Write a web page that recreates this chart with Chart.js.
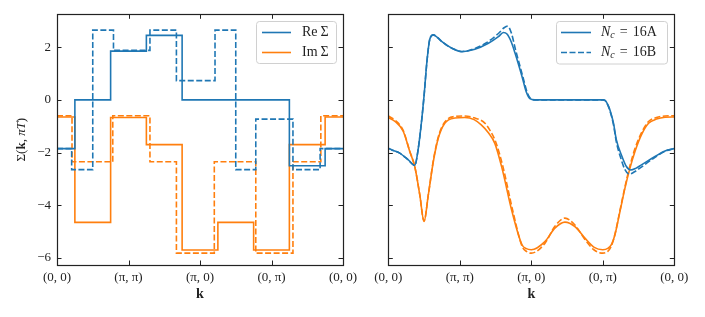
<!DOCTYPE html>
<html><head><meta charset="utf-8">
<script src="https://cdn.jsdelivr.net/npm/chart.js@4/dist/chart.umd.min.js"></script>
<style>
html,body{margin:0;padding:0;background:#fff;}
#wrap{position:relative;width:705px;height:317px;overflow:hidden;}
canvas{position:absolute;top:0;}
#c1{left:0;width:360px;height:317px;}
#c2{left:360px;width:345px;height:317px;}
</style></head><body>
<div id="wrap"><canvas id="c1" width="360" height="317"></canvas><canvas id="c2" width="345" height="317"></canvas></div>
<script>
// ---------- axis labels ----------
const kLabels = ['(0, 0)', '(π, π)', '(π, 0)', '(0, π)', '(0, 0)'];
const kTicks = [0, 1, 2, 3, 4];
const yTicks = [-6, -4, -2, 0, 2];
const yTickLabels = ['−6', '−4', '−2', '0', '2'];
const Y_MIN = -6.27, Y_MAX = 3.25;

// ---------- left panel: cluster (step) values ----------
const reA_edges = [0, 0.25, 0.75, 1.25, 1.75, 3.25, 3.75, 4];
const reA_vals  = [-1.85, 0, 1.85, 2.45, 0, -2.5, -1.85];
const imA_edges = [0, 0.25, 0.75, 1.25, 1.75, 2.25, 2.75, 3.25, 3.75, 4];
const imA_vals  = [-0.65, -4.65, -0.67, -1.7, -5.7, -4.65, -5.7, -1.7, -0.65];
const reB_edges = [0, 0.205, 0.5, 0.79, 1.3, 1.67, 2.21, 2.5, 2.78, 3.3, 3.68, 4];
const reB_vals  = [-1.85, -2.65, 2.65, 1.88, 2.65, 0.73, 2.65, -2.65, -0.73, -2.65, -1.85];
const imB_edges = [0, 0.21, 0.78, 1.3, 1.67, 2.2, 2.78, 3.3, 3.69, 4];
const imB_vals  = [-0.6, -2.35, -0.6, -2.35, -5.82, -2.35, -5.82, -2.35, -0.6];

// ---------- right panel: interpolated (smooth) values ----------
const reA_k = [0, 0.05, 0.16, 0.28, 0.37, 0.42, 0.47, 0.50, 0.54, 0.58, 0.63, 0.69, 0.75, 0.89, 1.03, 1.21, 1.40, 1.54, 1.61, 1.66, 1.72, 1.77, 1.87, 1.93, 1.98, 2.05, 2.5, 3.0, 3.03, 3.07, 3.10, 3.15, 3.19, 3.26, 3.33, 3.39, 3.46, 3.54, 3.73, 3.87, 4.0];
const reA_s = [-1.84, -1.90, -2.02, -2.28, -2.49, -1.83, -0.69, 0.15, 1.45, 2.30, 2.47, 2.36, 2.21, 1.96, 1.83, 1.92, 2.15, 2.40, 2.56, 2.50, 2.20, 1.80, 0.89, 0.30, 0.05, 0, 0, 0, -0.02, -0.18, -0.38, -0.89, -1.52, -2.09, -2.53, -2.66, -2.60, -2.47, -2.15, -1.94, -1.85];
const reB_k = [0, 0.05, 0.16, 0.28, 0.37, 0.42, 0.47, 0.50, 0.54, 0.58, 0.63, 0.69, 0.75, 0.89, 1.03, 1.21, 1.40, 1.54, 1.62, 1.67, 1.72, 1.78, 1.88, 1.94, 1.99, 2.05, 2.5, 3.0, 3.03, 3.07, 3.10, 3.15, 3.19, 3.25, 3.31, 3.37, 3.45, 3.54, 3.73, 3.87, 4.0];
const reB_s = [-1.84, -1.90, -2.02, -2.28, -2.49, -1.83, -0.69, 0.15, 1.45, 2.30, 2.47, 2.36, 2.21, 1.96, 1.84, 1.95, 2.22, 2.52, 2.74, 2.80, 2.55, 1.90, 0.90, 0.30, 0.05, 0, 0, 0, -0.02, -0.20, -0.42, -0.95, -1.60, -2.20, -2.65, -2.82, -2.72, -2.55, -2.18, -1.95, -1.85];
const imA_k = [0, 0.094, 0.21, 0.30, 0.37, 0.44, 0.50, 0.56, 0.63, 0.70, 0.79, 0.93, 1.07, 1.20, 1.30, 1.40, 1.49, 1.59, 1.73, 1.87, 1.93, 2.0, 2.19, 2.33, 2.47, 2.61, 2.75, 2.88, 3.0, 3.07, 3.12, 3.17, 3.24, 3.31, 3.38, 3.45, 3.54, 3.64, 3.75, 3.87, 4.0];
const imA_s = [-0.67, -0.82, -1.20, -1.96, -2.53, -3.60, -4.62, -3.60, -2.34, -1.45, -0.89, -0.69, -0.67, -0.75, -0.95, -1.25, -1.65, -2.59, -4.24, -5.50, -5.65, -5.69, -5.38, -4.87, -4.64, -4.81, -5.25, -5.60, -5.69, -5.64, -5.50, -5.12, -4.24, -3.35, -2.59, -1.96, -1.33, -0.89, -0.73, -0.66, -0.65];
const imB_k = [0, 0.094, 0.21, 0.30, 0.37, 0.44, 0.50, 0.56, 0.63, 0.70, 0.79, 0.93, 1.07, 1.20, 1.35, 1.42, 1.50, 1.60, 1.74, 1.87, 1.93, 2.0, 2.19, 2.33, 2.47, 2.61, 2.75, 2.88, 3.0, 3.07, 3.12, 3.17, 3.24, 3.31, 3.38, 3.45, 3.54, 3.64, 3.75, 3.87, 4.0];
const imB_s = [-0.61, -0.77, -1.17, -1.95, -2.53, -3.60, -4.60, -3.60, -2.30, -1.40, -0.84, -0.63, -0.61, -0.68, -0.88, -1.15, -1.58, -2.50, -4.20, -5.55, -5.75, -5.82, -5.45, -4.80, -4.49, -4.75, -5.30, -5.70, -5.82, -5.75, -5.55, -5.10, -4.20, -3.30, -2.50, -1.85, -1.25, -0.82, -0.67, -0.61, -0.60];

// ---------- style ----------
const BLUE = '#1f77b4', ORANGE = '#ff7f0e';
const SERIF = '"Liberation Serif", "Times New Roman", serif';
const INK = '#222';
const DASH = [6, 2.5];
const LW = 1.6;

function stepPoints(edges, vals) {
  const pts = vals.map((v, i) => ({x: edges[i], y: v}));
  pts.push({x: edges[edges.length - 1], y: vals[vals.length - 1]});
  return pts;
}
function xy(ks, vs) { return ks.map((k, i) => ({x: k, y: vs[i]})); }

function frameTicksPlugin(extra) {
  return {
    id: 'frameTicks',
    afterDraw(chart) {
      const {ctx, chartArea: a, scales: {x, y}} = chart;
      ctx.save();
      ctx.strokeStyle = INK;
      ctx.lineWidth = 1;
      ctx.setLineDash([]);
      const L = 4.5;
      ctx.beginPath();
      kTicks.forEach(v => {
        const px = Math.round(x.getPixelForValue(v)) + 0.5;
        ctx.moveTo(px, a.bottom); ctx.lineTo(px, a.bottom - L);
        ctx.moveTo(px, a.top); ctx.lineTo(px, a.top + L);
      });
      yTicks.forEach(v => {
        const py = Math.round(y.getPixelForValue(v)) + 0.5;
        ctx.moveTo(a.left, py); ctx.lineTo(a.left + L, py);
        ctx.moveTo(a.right, py); ctx.lineTo(a.right - L, py);
      });
      ctx.stroke();
      ctx.lineWidth = 1.2;
      ctx.strokeRect(Math.round(a.left) + 0.5, Math.round(a.top) + 0.5, Math.round(a.width), Math.round(a.height));
      ctx.restore();
      if (extra) extra(chart, ctx);
    }
  };
}

function drawPieces(ctx, pieces, x, y) {
  let cx = x;
  pieces.forEach(p => {
    ctx.font = p.font;
    ctx.fillText(p.t, cx, y + (p.dy || 0));
    cx += ctx.measureText(p.t).width + (p.gap || 0);
  });
  return cx;
}
function piecesWidth(ctx, pieces) {
  let w = 0;
  pieces.forEach(p => { ctx.font = p.font; w += ctx.measureText(p.t).width + (p.gap || 0); });
  return w;
}

function drawLegend(ctx, box, items) {
  ctx.save();
  const r = 3;
  ctx.beginPath();
  ctx.moveTo(box.x + r, box.y);
  ctx.lineTo(box.x + box.w - r, box.y);
  ctx.arcTo(box.x + box.w, box.y, box.x + box.w, box.y + r, r);
  ctx.lineTo(box.x + box.w, box.y + box.h - r);
  ctx.arcTo(box.x + box.w, box.y + box.h, box.x + box.w - r, box.y + box.h, r);
  ctx.lineTo(box.x + r, box.y + box.h);
  ctx.arcTo(box.x, box.y + box.h, box.x, box.y + box.h - r, r);
  ctx.lineTo(box.x, box.y + r);
  ctx.arcTo(box.x, box.y, box.x + r, box.y, r);
  ctx.closePath();
  ctx.fillStyle = 'rgba(255,255,255,0.85)';
  ctx.fill();
  ctx.strokeStyle = '#d0d0d0';
  ctx.lineWidth = 1;
  ctx.stroke();
  items.forEach(it => {
    ctx.beginPath();
    ctx.strokeStyle = it.color;
    ctx.lineWidth = LW;
    ctx.setLineDash(it.dash || []);
    ctx.moveTo(it.x0, it.y); ctx.lineTo(it.x1, it.y);
    ctx.stroke();
    ctx.setLineDash([]);
    ctx.fillStyle = INK;
    ctx.textBaseline = 'middle';
    ctx.textAlign = 'left';
    drawPieces(ctx, it.pieces, it.tx, it.y);
  });
  ctx.restore();
}

function baseOptions(yWidth, padRight, showYLabels) {
  return {
    responsive: false,
    animation: false,
    devicePixelRatio: 1,
    layout: {padding: {top: 14.3, right: padRight, left: 0, bottom: 0}},
    plugins: {legend: {display: false}, tooltip: {enabled: false}},
    elements: {point: {radius: 0}, line: {borderWidth: LW}},
    scales: {
      x: {
        type: 'linear', min: 0, max: 4,
        grid: {display: false, drawTicks: false},
        border: {display: false},
        afterBuildTicks: s => { s.ticks = kTicks.map(v => ({value: v})); },
        afterFit: s => { s.height = 52; s.paddingLeft = 0; s.paddingRight = 0; },
        ticks: {
          autoSkip: false, maxRotation: 0, padding: 5, color: INK,
          font: {family: SERIF, size: 13},
          callback: v => kLabels[kTicks.indexOf(v)]
        },
        title: {display: true, text: 'k', color: INK, font: {family: SERIF, size: 14, weight: 'bold'}, padding: {top: 0, bottom: 14}}
      },
      y: {
        type: 'linear', min: Y_MIN, max: Y_MAX,
        grid: {display: false, drawTicks: false},
        border: {display: false},
        afterBuildTicks: s => { s.ticks = yTicks.map(v => ({value: v})); },
        afterFit: s => { s.width = yWidth; },
        ticks: {
          display: showYLabels, padding: 6, color: INK,
          font: {family: SERIF, size: 13},
          callback: v => yTickLabels[yTicks.indexOf(v)]
        }
      }
    }
  };
}

// ---------- left chart ----------
const ROMAN = '14px ' + SERIF;
const ITAL = 'italic 14px ' + SERIF;
const SUB = 'italic 10px ' + SERIF;

new Chart(document.getElementById('c1'), {
  type: 'line',
  data: {datasets: [
    {label: 'Re Σ (16A)', data: stepPoints(reA_edges, reA_vals), borderColor: BLUE, stepped: 'before', fill: false},
    {label: 'Re Σ (16B)', data: stepPoints(reB_edges, reB_vals), borderColor: BLUE, borderDash: DASH, stepped: 'before', fill: false},
    {label: 'Im Σ (16A)', data: stepPoints(imA_edges, imA_vals), borderColor: ORANGE, stepped: 'before', fill: false},
    {label: 'Im Σ (16B)', data: stepPoints(imB_edges, imB_vals), borderColor: ORANGE, borderDash: DASH, stepped: 'before', fill: false}
  ]},
  options: baseOptions(57, 17, true),
  plugins: [frameTicksPlugin((chart, ctx) => {
    drawLegend(ctx, {x: 256.5, y: 21.5, w: 80, h: 42}, [
      {color: BLUE, x0: 262, x1: 291, y: 32.5, tx: 302, pieces: [{t: 'Re', font: ROMAN, gap: 3}, {t: 'Σ', font: ROMAN}]},
      {color: ORANGE, x0: 262, x1: 291, y: 52.5, tx: 302, pieces: [{t: 'Im', font: ROMAN, gap: 3}, {t: 'Σ', font: ROMAN}]}
    ]);
    // y-axis title with mixed fonts
    const a = chart.chartArea;
    const F = '13px ' + SERIF, FB = 'bold 13px ' + SERIF, FI = 'italic 13px ' + SERIF;
    const pcs = [{t: 'Σ(', font: F}, {t: 'k', font: FB}, {t: ', ', font: F}, {t: 'πT', font: FI}, {t: ')', font: F}];
    ctx.save();
    ctx.fillStyle = INK;
    ctx.textBaseline = 'middle';
    ctx.textAlign = 'left';
    const w = piecesWidth(ctx, pcs);
    ctx.translate(22, (a.top + a.bottom) / 2);
    ctx.rotate(-Math.PI / 2);
    drawPieces(ctx, pcs, -w / 2, 0);
    ctx.restore();
  })]
});

// ---------- right chart ----------
new Chart(document.getElementById('c2'), {
  type: 'line',
  data: {datasets: [
    {label: 'Re Σ, Nc = 16A', data: xy(reA_k, reA_s), borderColor: BLUE, cubicInterpolationMode: 'monotone', fill: false},
    {label: 'Re Σ, Nc = 16B', data: xy(reB_k, reB_s), borderColor: BLUE, borderDash: DASH, cubicInterpolationMode: 'monotone', fill: false},
    {label: 'Im Σ, Nc = 16A', data: xy(imA_k, imA_s), borderColor: ORANGE, cubicInterpolationMode: 'monotone', fill: false},
    {label: 'Im Σ, Nc = 16B', data: xy(imB_k, imB_s), borderColor: ORANGE, borderDash: DASH, cubicInterpolationMode: 'monotone', fill: false}
  ]},
  options: baseOptions(28.3, 30.7, false),
  plugins: [frameTicksPlugin((chart, ctx) => {
    const nc = (lbl) => [{t: 'N', font: ITAL}, {t: 'c', font: SUB, dy: 3, gap: 5}, {t: '=', font: ROMAN, gap: 5}, {t: lbl, font: ROMAN}];
    drawLegend(ctx, {x: 196.5, y: 21.5, w: 111, h: 42.5}, [
      {color: BLUE, x0: 201, x1: 231, y: 32.5, tx: 241, pieces: nc('16A')},
      {color: BLUE, dash: DASH, x0: 201, x1: 231, y: 52.5, tx: 241, pieces: nc('16B')}
    ]);
  })]
});
</script>
</body></html>
